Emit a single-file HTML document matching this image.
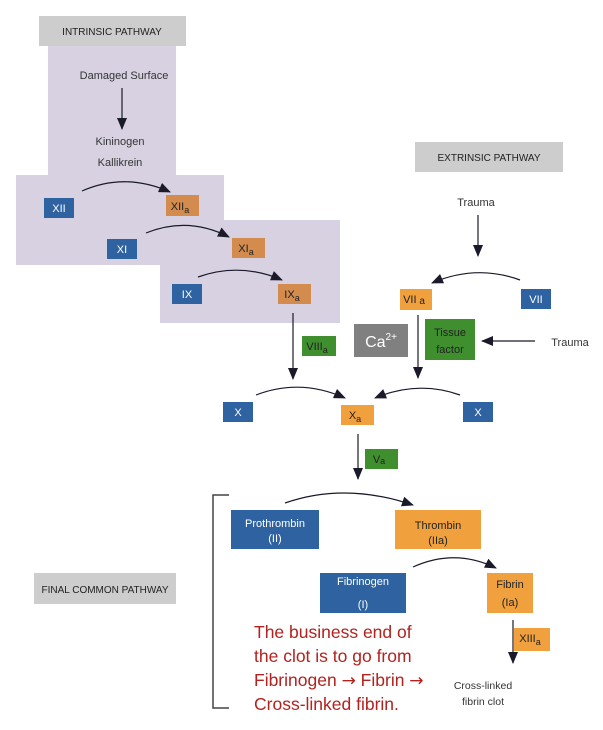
<!DOCTYPE html>
<html><head><meta charset="utf-8"><style>
html,body{margin:0;padding:0;background:#fff;}
svg{display:block;font-family:"Liberation Sans",sans-serif;}
</style></head><body>
<svg width="603" height="730" viewBox="0 0 603 730" xmlns="http://www.w3.org/2000/svg">
<defs>
<marker id="ah2" markerWidth="12" markerHeight="10" refX="11" refY="5" orient="auto" markerUnits="userSpaceOnUse">
<path d="M0,0 L12,5 L0,10 z" fill="#1a1a2a"/></marker>
</defs>
<g fill="#d8d1e2">
<rect x="48" y="46" width="128" height="130"/>
<rect x="16" y="175" width="208" height="90"/>
<rect x="160" y="220" width="180" height="103"/>
</g>
<rect x="39" y="16" width="147" height="30" fill="#cdcdcd"/>
<text x="112" y="35" font-size="10" text-anchor="middle" fill="#222">INTRINSIC PATHWAY</text>
<rect x="415" y="142" width="148" height="30" fill="#cdcdcd"/>
<text x="489" y="161" font-size="10" text-anchor="middle" fill="#222">EXTRINSIC PATHWAY</text>
<rect x="34" y="573" width="142" height="31" fill="#cdcdcd"/>
<text x="105" y="593" font-size="10" text-anchor="middle" fill="#222">FINAL COMMON  PATHWAY</text>

<g font-size="11" fill="#333" text-anchor="middle">
<text x="124" y="79">Damaged Surface</text>
<text x="120" y="145">Kininogen</text>
<text x="120" y="166">Kallikrein</text>
<text x="476" y="206">Trauma</text>
<text x="570" y="346">Trauma</text>
<text x="483" y="689" font-size="10.5">Cross-linked</text>
<text x="483" y="705" font-size="10.5">fibrin clot</text>
</g>

<g stroke="#1a1a2a" stroke-width="1.2" fill="none">
<line x1="122" y1="88" x2="122" y2="129" marker-end="url(#ah2)"/>
<path d="M82,191 Q125,172 170,192" marker-end="url(#ah2)"/>
<path d="M146,233 Q188,216 229,237" marker-end="url(#ah2)"/>
<path d="M198,277 Q240,262 282,280" marker-end="url(#ah2)"/>
<line x1="293" y1="313" x2="293" y2="379" marker-end="url(#ah2)"/>
<line x1="478" y1="215" x2="478" y2="256" marker-end="url(#ah2)"/>
<path d="M520,280 Q476,264 432,283" marker-end="url(#ah2)"/>
<line x1="535" y1="341" x2="482" y2="341" marker-end="url(#ah2)"/>
<line x1="418" y1="315" x2="418" y2="378" marker-end="url(#ah2)"/>
<path d="M256,395 Q300,378 345,398" marker-end="url(#ah2)"/>
<path d="M460,395 Q418,380 375,398" marker-end="url(#ah2)"/>
<line x1="358" y1="434" x2="358" y2="479" marker-end="url(#ah2)"/>
<path d="M285,503 Q345,482 413,505" marker-end="url(#ah2)"/>
<path d="M413,567 Q455,548 496,568" marker-end="url(#ah2)"/>
<line x1="513" y1="620" x2="513" y2="663" marker-end="url(#ah2)"/>
<path d="M229,495 L213,495 L213,708 L229,708" stroke="#444" stroke-width="1.5"/>
</g>

<g fill="#2e62a0">
<rect x="44" y="198" width="30" height="20"/>
<rect x="107" y="239" width="30" height="20"/>
<rect x="172" y="284" width="30" height="20"/>
<rect x="521" y="289" width="30" height="20"/>
<rect x="223" y="402" width="30" height="20"/>
<rect x="463" y="402" width="30" height="20"/>
<rect x="231" y="510" width="88" height="39"/>
<rect x="320" y="573" width="86" height="40"/>
</g>
<g fill="#fff" font-size="11" text-anchor="middle">
<text x="59" y="212">XII</text>
<text x="122" y="253">XI</text>
<text x="187" y="298">IX</text>
<text x="536" y="303">VII</text>
<text x="238" y="416">X</text>
<text x="478" y="416">X</text>
<text x="275" y="527">Prothrombin</text>
<text x="275" y="542">(II)</text>
<text x="363" y="585">Fibrinogen</text>
<text x="363" y="608">(I)</text>
</g>
<g fill="#d38c4e">
<rect x="166" y="195" width="33" height="21"/>
<rect x="232" y="238" width="33" height="20"/>
<rect x="278" y="284" width="33" height="20"/>
</g>
<g fill="#f0a03c">
<rect x="400" y="289" width="32" height="21"/>
<rect x="341" y="405" width="33" height="20"/>
<rect x="395" y="510" width="86" height="39"/>
<rect x="487" y="573" width="46" height="40"/>
<rect x="514" y="628" width="36" height="23"/>
</g>
<g fill="#3f8f2f">
<rect x="302" y="336" width="34" height="20"/>
<rect x="425" y="319" width="50" height="41"/>
<rect x="365" y="449" width="33" height="20"/>
</g>
<rect x="354" y="324" width="54" height="33" fill="#808080"/>
<text x="381" y="347" font-size="16" fill="#fff" text-anchor="middle">Ca<tspan font-size="10" dy="-7">2+</tspan></text>

<g font-size="11" fill="#222" text-anchor="middle">
<text x="180" y="210">XII<tspan font-size="9" dy="3">a</tspan></text>
<text x="246" y="252">XI<tspan font-size="9" dy="3">a</tspan></text>
<text x="292" y="298">IX<tspan font-size="9" dy="3">a</tspan></text>
<text x="414" y="303">VII<tspan font-size="10" dy="1"> a</tspan></text>
<text x="355" y="419">X<tspan font-size="9" dy="3">a</tspan></text>
<text x="317" y="350">VIII<tspan font-size="9" dy="3">a</tspan></text>
<text x="379" y="463">V<tspan font-size="9" dy="1">a</tspan></text>
<text x="450" y="336">Tissue</text>
<text x="450" y="353">factor</text>
<text x="438" y="529">Thrombin</text>
<text x="438" y="544">(IIa)</text>
<text x="510" y="588">Fibrin</text>
<text x="510" y="606">(Ia)</text>
<text x="530" y="642">XIII<tspan font-size="9" dy="3">a</tspan></text>
</g>

<g font-size="17.5" fill="#b2221e">
<text x="254" y="638">The business end of</text>
<text x="254" y="662">the clot is to go from</text>
<text x="254" y="686">Fibrinogen <tspan font-family="DejaVu Sans" font-size="17">→</tspan> Fibrin <tspan font-family="DejaVu Sans" font-size="17">→</tspan></text>
<text x="254" y="710">Cross-linked fibrin.</text>
</g>
</svg>
</body></html>
